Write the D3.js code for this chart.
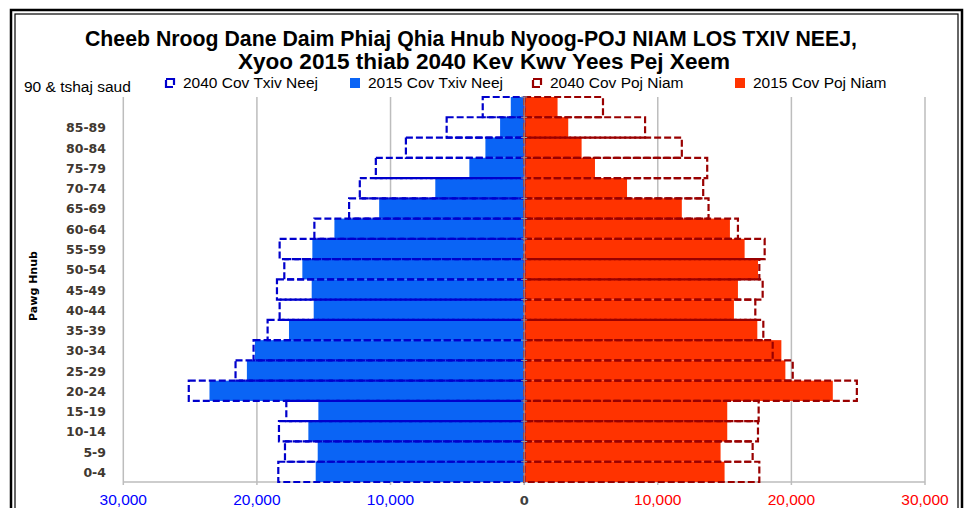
<!DOCTYPE html>
<html>
<head>
<meta charset="utf-8">
<script src="https://cdn.jsdelivr.net/npm/d3@7"></script>
<style>
  body { margin: 0; background: #fff; }
  svg { display: block; }
</style>
</head>
<body>
<div id="chart"></div>
<script>
// age groups, top to bottom
var ages = ["90+", "85-89", "80-84", "75-79", "70-74", "65-69", "60-64", "55-59", "50-54",
            "45-49", "40-44", "35-39", "30-34", "25-29", "20-24", "15-19", "10-14", "5-9", "0-4"];

var male2015   = [1000, 1800, 2900, 4100, 6650, 10850, 14200, 15850, 16600,
                  15900, 15750, 17600, 20150, 20750, 23550, 15400, 16150, 15450, 15600];
var male2040   = [3100, 5800, 8850, 11100, 12300, 13100, 15700, 18300, 17950,
                  18500, 18300, 19200, 20250, 21600, 25100, 17800, 18350, 17900, 18400];
var female2015 = [2500, 3300, 4300, 5300, 7700, 11800, 15400, 16500, 17500,
                  16000, 15700, 17450, 19250, 19550, 23100, 15200, 15200, 14700, 15000];
var female2040 = [5900, 9050, 11800, 13700, 13400, 13800, 16000, 18000, 17600,
                  17850, 17300, 17900, 18600, 20100, 24900, 17550, 17500, 17100, 17600];

var xTicks = [-30000, -20000, -10000, 0, 10000, 20000, 30000];
var topLabel = "90 & tshaj saud";

var titleLines = ["Cheeb Nroog Dane Daim Phiaj Qhia Hnub Nyoog-POJ NIAM LOS TXIV NEEJ,",
                  "Xyoo 2015 thiab 2040 Kev Kwv Yees Pej Xeem"];
var legendItems = [
  {label: "2040 Cov Txiv Neej", kind: "dash", color: "#0000CC", x: 165},
  {label: "2015 Cov Txiv Neej", kind: "fill", color: "#0A64F5", x: 350},
  {label: "2040 Cov Poj Niam", kind: "dash", color: "#990000", x: 532},
  {label: "2015 Cov Poj Niam", kind: "fill", color: "#FF3300", x: 735}
];

var width = 968, height = 508;
var maleFill = "#0A64F5", femaleFill = "#FF3300";
var maleLine = "#0000CC", femaleLine = "#990000";
var narrow = "'Liberation Sans Narrow', 'Arial Narrow', 'Liberation Sans', Arial, sans-serif";

var svg = d3.select("#chart").append("svg")
  .attr("width", width)
  .attr("height", height);

// frame
svg.append("rect").attr("x", 11).attr("y", 10).attr("width", 951).attr("height", 520)
  .attr("fill", "none").attr("stroke", "#000").attr("stroke-width", 2.5);
svg.append("rect").attr("x", 15).attr("y", 14).attr("width", 943).attr("height", 520)
  .attr("fill", "none").attr("stroke", "#000").attr("stroke-width", 1.2);

var x = d3.scaleLinear().domain([-30000, 30000]).range([123.3, 925]);
var y = d3.scaleBand().domain(ages).range([97, 482]).padding(0);

// gridlines
svg.append("g").selectAll("line")
  .data(xTicks.filter(function(d) { return d !== 0; }))
  .enter().append("line")
  .attr("x1", function(d) { return x(d); })
  .attr("x2", function(d) { return x(d); })
  .attr("y1", 97).attr("y2", 485)
  .attr("stroke", "#BDBDBD").attr("stroke-width", 1.5);

// bottom axis line
svg.append("line")
  .attr("x1", x(-30000)).attr("x2", x(30000))
  .attr("y1", 482).attr("y2", 482)
  .attr("stroke", "#BDBDBD").attr("stroke-width", 1.5);

// 2015 bars
svg.append("g").selectAll("rect")
  .data(ages)
  .enter().append("rect")
  .attr("x", function(d, i) { return x(-male2015[i]); })
  .attr("y", function(d) { return y(d); })
  .attr("width", function(d, i) { return x(0) - x(-male2015[i]); })
  .attr("height", y.bandwidth())
  .attr("fill", maleFill);

svg.append("g").selectAll("rect")
  .data(ages)
  .enter().append("rect")
  .attr("x", x(0))
  .attr("y", function(d) { return y(d); })
  .attr("width", function(d, i) { return x(female2015[i]) - x(0); })
  .attr("height", y.bandwidth())
  .attr("fill", femaleFill);

// 2040 outlines (no fill)
svg.append("g").selectAll("rect")
  .data(ages)
  .enter().append("rect")
  .attr("x", function(d, i) { return x(-male2040[i]); })
  .attr("y", function(d) { return y(d); })
  .attr("width", function(d, i) { return x(0) - x(-male2040[i]); })
  .attr("height", y.bandwidth())
  .attr("fill", "none")
  .attr("stroke", maleLine).attr("stroke-width", 2.2)
  .attr("stroke-dasharray", "7,3");

svg.append("g").selectAll("rect")
  .data(ages)
  .enter().append("rect")
  .attr("x", x(0))
  .attr("y", function(d) { return y(d); })
  .attr("width", function(d, i) { return x(female2040[i]) - x(0); })
  .attr("height", y.bandwidth())
  .attr("fill", "none")
  .attr("stroke", femaleLine).attr("stroke-width", 2.2)
  .attr("stroke-dasharray", "7,3");

// center axis with ticks at band edges
svg.append("line")
  .attr("x1", x(0)).attr("x2", x(0))
  .attr("y1", 97).attr("y2", 485)
  .attr("stroke", "#9A9A9A").attr("stroke-width", 1.2);
svg.append("g").selectAll("line")
  .data(ages)
  .enter().append("line")
  .attr("x1", x(0) - 3).attr("x2", x(0) + 3)
  .attr("y1", function(d) { return y(d); })
  .attr("y2", function(d) { return y(d); })
  .attr("stroke", "#9A9A9A").attr("stroke-width", 1);

// age labels
svg.append("g").selectAll("text")
  .data(ages.filter(function(d) { return d !== "90+"; }))
  .enter().append("text")
  .attr("x", 106)
  .attr("y", function(d) { return y(d) + y.bandwidth() / 2 + 5; })
  .attr("text-anchor", "end")
  .attr("font-family", "'DejaVu Sans', Verdana, sans-serif")
  .attr("font-weight", "bold")
  .attr("font-size", 12.5)
  .attr("fill", "#403830")
  .text(function(d) { return d; });

svg.append("text")
  .attr("x", 24).attr("y", y("90+") - 5)
  .attr("font-family", narrow)
  .attr("font-size", 15.5)
  .attr("fill", "#000")
  .text(topLabel);

// y axis title
svg.append("text")
  .attr("transform", "translate(37,286) rotate(-90)")
  .attr("text-anchor", "middle")
  .attr("font-family", "'DejaVu Sans', Verdana, sans-serif")
  .attr("font-weight", "bold")
  .attr("font-size", 11)
  .attr("fill", "#000")
  .text("Pawg Hnub");

// x tick labels
svg.append("g").selectAll("text")
  .data(xTicks)
  .enter().append("text")
  .attr("x", function(d) { return x(d); })
  .attr("y", 505)
  .attr("text-anchor", "middle")
  .attr("font-family", function(d) { return d === 0 ? "'DejaVu Sans', Verdana, sans-serif" : "'Liberation Sans', Arial, sans-serif"; })
  .attr("font-weight", function(d) { return d === 0 ? "bold" : "normal"; })
  .attr("font-size", function(d) { return d === 0 ? 13 : 15.5; })
  .attr("fill", function(d) { return d < 0 ? "#0000FF" : (d > 0 ? "#FF0000" : "#404040"); })
  .text(function(d) { return d3.format(",")(Math.abs(d)); });

// title
svg.append("text")
  .attr("x", 471).attr("y", 46)
  .attr("text-anchor", "middle")
  .attr("font-family", narrow)
  .attr("font-weight", "bold")
  .attr("font-size", 22.5)
  .attr("textLength", 772).attr("lengthAdjust", "spacingAndGlyphs")
  .text(titleLines[0]);
svg.append("text")
  .attr("x", 484).attr("y", 69)
  .attr("text-anchor", "middle")
  .attr("font-family", narrow)
  .attr("font-weight", "bold")
  .attr("font-size", 22.5)
  .attr("textLength", 492).attr("lengthAdjust", "spacingAndGlyphs")
  .text(titleLines[1]);

// legend
var leg = svg.append("g").selectAll("g")
  .data(legendItems)
  .enter().append("g")
  .attr("transform", function(d) { return "translate(" + d.x + ",78)"; });
leg.append("rect")
  .attr("x", function(d) { return d.kind === "dash" ? 1 : 0; })
  .attr("y", function(d) { return d.kind === "dash" ? 1 : 0; })
  .attr("width", function(d) { return d.kind === "dash" ? 8 : 10; })
  .attr("height", function(d) { return d.kind === "dash" ? 8 : 10; })
  .attr("fill", function(d) { return d.kind === "dash" ? "none" : d.color; })
  .attr("stroke", function(d) { return d.kind === "dash" ? d.color : "none"; })
  .attr("stroke-width", 2.2)
  .attr("stroke-dasharray", function(d) { return d.kind === "dash" ? "14,3" : null; });
leg.append("text")
  .attr("x", 18).attr("y", 10)
  .attr("font-family", narrow)
  .attr("font-size", 15.5)
  .attr("fill", "#000")
  .text(function(d) { return d.label; });
</script>
</body>
</html>
